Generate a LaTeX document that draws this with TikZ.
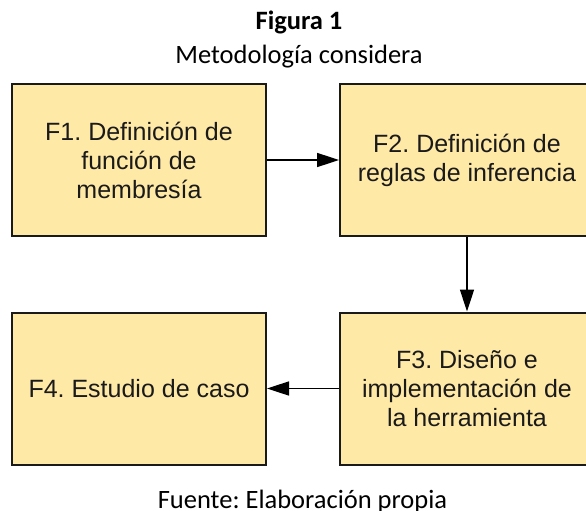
\documentclass[tikz,border=0pt]{standalone}
\usepackage{fontspec}
\setmainfont{Carlito}
\newfontfamily\arialfont{Liberation Sans}
\usetikzlibrary{arrows.meta}
\frenchspacing
\definecolor{faseamarillo}{RGB}{255,233,166}
\definecolor{bordeoscuro}{RGB}{26,26,26}
\begin{document}
\begin{tikzpicture}[x=1pt,y=-1pt,
    fase/.style={draw=bordeoscuro,line width=2pt,fill=faseamarillo,
      minimum width=254pt,minimum height=152pt,align=center,inner sep=0pt,
      text=bordeoscuro,font=\arialfont\fontsize{25}{29}\selectfont},
    flecha/.style={line width=1.6pt,-{Triangle[length=22pt,width=14pt]}},
    rotulo/.style={font=\fontsize{26.5}{32}\selectfont,anchor=base,inner sep=0pt}]
  \useasboundingbox (0,0) rectangle (586,511);
  % titulo
  \node[rotulo,font=\bfseries\fontsize{26.5}{32}\selectfont] (titulo) at (299,29.5) {Figura 1};
  \node[rotulo] (subtitulo) at (299,63.5) {Metodología considera};
  % fases
  \draw
    (139,160) node[fase] (f1) {F1. Definición de\\función de\\membresía}
    (467,160) node[fase] (f2) {F2. Definición de\\reglas de inferencia}
    (467,388.5) node[fase] (f3) {F3. Diseño e\\implementación de\\la herramienta}
    (139,388.5) node[fase] (f4) {F4. Estudio de caso};
  \begin{scope}[flecha]
    \draw (f1) -- (f2);
    \draw (f2) -- (f3);
    \draw (f3) -- (f4);
  \end{scope}
  % fuente
  \node[rotulo] (fuente) at (302.5,508) {Fuente: Elaboración propia};
\end{tikzpicture}
\end{document}
